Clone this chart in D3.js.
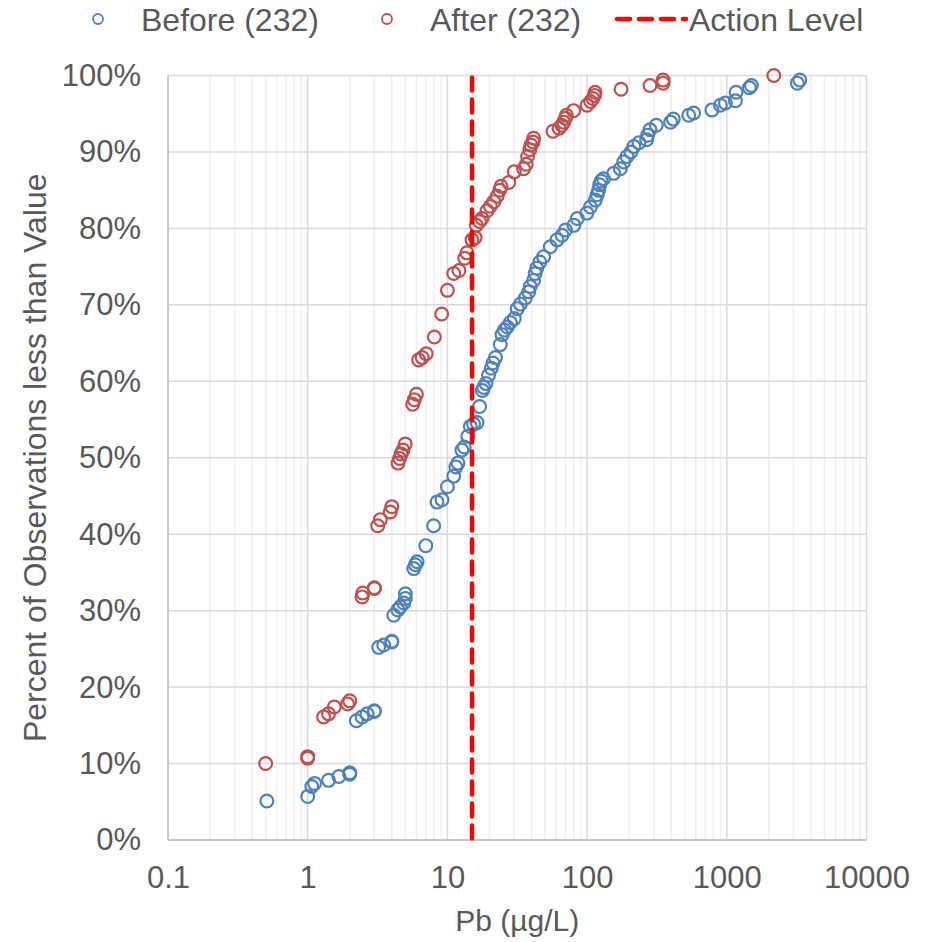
<!DOCTYPE html>
<html>
<head>
<meta charset="utf-8">
<script src="https://cdn.jsdelivr.net/npm/d3@7/dist/d3.min.js"></script>
<style>
  body { margin: 0; background: #fff; }
  text { font-family: "Liberation Sans", Arial, sans-serif; fill: #595959; }
</style>
</head>
<body>
<script>
// Pb concentration (ug/L) and cumulative share of observations
var beforeVal = [0.51, 1.0, 1.07, 1.12, 1.41, 1.67, 2.0, 2.0, 2.23, 2.45, 2.66, 3.0, 3.0,
  3.22, 3.5, 4.0, 4.0, 4.13, 4.42, 4.6, 4.87, 5.0, 5.0, 5.75, 5.9, 6.07, 7.0, 7.97,
  8.43, 9.15, 10.0, 11.1, 11.5, 11.9, 12.7, 13.2, 14.0, 14.6, 15.4, 16.3, 17.0, 17.8,
  18.2, 18.9, 19.7, 20.6, 21.2, 22.1, 23.9, 24.6, 25.6, 26.8, 28.2, 30.1, 31.6, 33.3,
  36.1, 38.2, 39.2, 41.4, 42.5, 43.6, 45.9, 48.8, 54.5, 60.9, 66.2, 70.0, 80.4, 85.1,
  99.7, 105.6, 114.5, 118, 121, 123, 126, 131, 155, 173, 183, 193, 206, 216, 235, 267,
  271, 282, 313, 396, 414, 534, 579, 783, 900, 977, 1153, 1165, 1450, 1500, 3200, 3330];
var beforePct = [5.1, 5.7, 7.0, 7.4, 7.8, 8.3, 8.6, 8.8, 15.6, 16.1, 16.5, 16.8, 16.9,
  25.2, 25.5, 25.9, 26.0, 29.4, 30.1, 30.5, 31.0, 31.6, 32.2, 35.5, 36.0, 36.4, 38.5, 41.1,
  44.2, 44.5, 46.2, 47.6, 48.8, 49.3, 51.0, 51.4, 52.8, 54.1, 54.4, 54.6, 56.7, 58.8,
  59.2, 59.7, 60.8, 61.7, 62.4, 63.1, 64.8, 66.1, 66.7, 67.1, 67.7, 68.2, 69.5, 70.1,
  70.9, 71.7, 72.4, 73.2, 74.1, 74.8, 75.6, 76.3, 77.6, 78.5, 79.1, 79.8, 80.4, 81.3,
  82.0, 82.8, 83.7, 84.4, 85.0, 85.7, 86.2, 86.5, 87.2, 87.8, 88.7, 89.4, 90.0, 90.7, 91.2, 91.6,
  92.2, 92.9, 93.5, 93.9, 94.3, 94.8, 95.1, 95.5, 96.1, 96.4, 96.7, 97.8, 98.4, 98.7, 99.0, 99.4];

var afterVal = [0.5, 1.0, 1.0, 1.3, 1.41, 1.55, 1.93, 2.0, 2.45, 2.48, 3.0, 3.0, 3.17, 3.31,
  3.9, 4.0, 4.43, 4.55, 4.66, 4.81, 4.99, 5.64, 5.8, 6.0, 6.23, 6.6, 7.05, 8.07, 9.1, 10.0,
  11.1, 12.1, 13.3, 13.8, 15.0, 15.8, 16.1, 17.0, 17.7, 19.2, 20.3, 21.5, 22.7, 23.7, 24.2,
  27.5, 30.1, 35.1, 36.7, 37.5, 38.9, 39.6, 41.0, 41.4, 57, 63, 66, 68, 70, 71, 80, 100,
  106, 110, 113, 114, 175, 282, 350, 350, 2170];
var afterPct = [10.0, 10.7, 10.9, 16.1, 16.5, 17.4, 17.8, 18.2, 31.8, 32.3, 32.9, 33.0, 41.1, 41.9,
  42.9, 43.6, 49.3, 49.9, 50.5, 51.0, 51.8, 57.0, 57.6, 58.3, 62.8, 63.1, 63.6, 65.8, 68.8, 71.9,
  74.1, 74.5, 76.1, 76.8, 78.5, 78.8, 80.4, 80.9, 81.3, 82.3, 82.9, 83.5, 84.2, 85.0, 85.5,
  86.0, 87.4, 87.8, 88.4, 89.4, 90.3, 90.9, 91.3, 91.8, 92.7, 93.1, 93.5, 93.9, 94.4, 94.8, 95.4, 96.1,
  96.6, 97.0, 97.4, 97.8, 98.2, 98.7, 99.0, 99.4, 100.0];

var actionLevel = 15;
var xTicks = [0.1, 1, 10, 100, 1000, 10000];
var yTicks = [0, 0.1, 0.2, 0.3, 0.4, 0.5, 0.6, 0.7, 0.8, 0.9, 1];

var width = 928,
    height = 942;

// plot box ("top" is taken by window.top, so prefix these)
var pLeft = 168, pRight = 866.5, pTop = 75.5, pBottom = 840;

var blue = "#4f81bd", red = "#c0504d";

var svg = d3.select("body").append("svg")
    .attr("width", width)
    .attr("height", height);

var x = d3.scaleLog().domain([0.1, 10000]).range([pLeft, pRight]);
var y = d3.scaleLinear().domain([0, 1]).range([pBottom, pTop]);

// minor vertical grid (2..9 in each decade)
var minor = [];
xTicks.slice(0, -1).forEach(function(t){
  for (var k = 2; k < 10; k++) minor.push(t * k);
});

svg.append("g").selectAll("line")
  .data(minor)
  .enter().append("line")
  .attr("x1", function(d){ return x(d); })
  .attr("x2", function(d){ return x(d); })
  .attr("y1", pTop).attr("y2", pBottom)
  .attr("stroke", "#efefef")
  .attr("stroke-width", 1.5);

svg.append("g").selectAll("line")
  .data(xTicks)
  .enter().append("line")
  .attr("x1", function(d){ return x(d); })
  .attr("x2", function(d){ return x(d); })
  .attr("y1", pTop).attr("y2", pBottom)
  .attr("stroke", "#d9d9d9")
  .attr("stroke-width", 1.5);

svg.append("g").selectAll("line")
  .data(yTicks)
  .enter().append("line")
  .attr("x1", pLeft).attr("x2", pRight)
  .attr("y1", function(d){ return y(d); })
  .attr("y2", function(d){ return y(d); })
  .attr("stroke", "#d9d9d9")
  .attr("stroke-width", 1.5);

// axis lines
svg.append("line")
  .attr("x1", pLeft).attr("x2", pLeft).attr("y1", pTop).attr("y2", pBottom)
  .attr("stroke", "#bfbfbf").attr("stroke-width", 1.5);
svg.append("line")
  .attr("x1", pLeft).attr("x2", pRight).attr("y1", pBottom).attr("y2", pBottom)
  .attr("stroke", "#bfbfbf").attr("stroke-width", 1.5);

// axes (labels only)
var xAxis = svg.append("g")
  .attr("transform", "translate(0," + pBottom + ")")
  .call(d3.axisBottom(x).tickValues(xTicks).tickFormat(d3.format("")).tickSize(0).tickPadding(26));
var yAxis = svg.append("g")
  .attr("transform", "translate(" + pLeft + ",0)")
  .call(d3.axisLeft(y).tickValues(yTicks).tickFormat(d3.format(".0%")).tickSize(0).tickPadding(27));

[xAxis, yAxis].forEach(function(a){
  a.select(".domain").remove();
  a.selectAll("text")
    .attr("font-size", 31)
    .attr("font-family", '"Liberation Sans", Arial, sans-serif')
    .attr("fill", "#595959");
});

// titles
svg.append("text")
  .attr("x", (pLeft + pRight) / 2)
  .attr("y", 931)
  .attr("text-anchor", "middle")
  .attr("font-size", 30)
  .text("Pb (µg/L)");

svg.append("text")
  .attr("transform", "translate(46," + ((pTop + pBottom) / 2) + ") rotate(-90)")
  .attr("text-anchor", "middle")
  .attr("font-size", 32)
  .text("Percent of Observations less than Value");

function series(vals, pcts, color){
  var data = vals.map(function(v, i){ return [v, pcts[i] / 100]; });
  svg.append("g").selectAll("circle")
    .data(data)
    .enter().append("circle")
    .attr("cx", function(d){ return x(d[0]); })
    .attr("cy", function(d){ return y(d[1]); })
    .attr("r", 6.4)
    .attr("fill", "none")
    .attr("stroke", color)
    .attr("stroke-width", 2.2);
}

series(beforeVal, beforePct, blue);
series(afterVal, afterPct, red);

// action level
svg.append("line")
  .attr("x1", x(actionLevel)).attr("x2", x(actionLevel))
  .attr("y1", pTop + 2).attr("y2", pBottom)
  .attr("stroke", "#ff0000")
  .attr("stroke-width", 4.5)
  .attr("stroke-linecap", "round")
  .attr("stroke-dasharray", "13 9");

// legend
var lg = svg.append("g");
lg.append("circle").attr("cx", 98).attr("cy", 19).attr("r", 5)
  .attr("fill", "none").attr("stroke", blue).attr("stroke-width", 1.8);
lg.append("text").attr("x", 141).attr("y", 31).attr("font-size", 32).text("Before (232)");
lg.append("circle").attr("cx", 387).attr("cy", 19).attr("r", 5)
  .attr("fill", "none").attr("stroke", red).attr("stroke-width", 1.8);
lg.append("text").attr("x", 430).attr("y", 31).attr("font-size", 32).text("After (232)");
lg.append("line").attr("x1", 617).attr("x2", 686).attr("y1", 19).attr("y2", 19)
  .attr("stroke", "#ff0000").attr("stroke-width", 4.5)
  .attr("stroke-linecap", "round").attr("stroke-dasharray", "13 9");
lg.append("text").attr("x", 689).attr("y", 31).attr("font-size", 32).text("Action Level");
</script>
</body>
</html>
